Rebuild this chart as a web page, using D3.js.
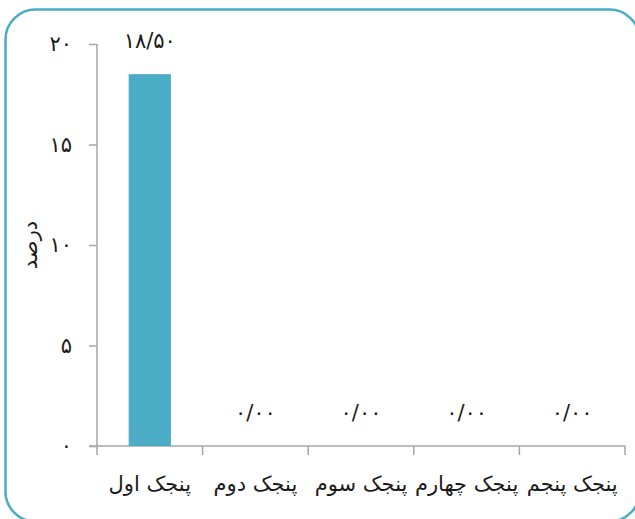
<!DOCTYPE html>
<html>
<head>
<meta charset="utf-8">
<script src="https://cdnjs.cloudflare.com/ajax/libs/d3/7.8.5/d3.min.js"></script>
<style>
  html, body { margin: 0; padding: 0; background: #fff; }
  svg text { font-family: "DejaVu Sans", "Noto Sans", sans-serif; fill: #1a1a1a; }
</style>
</head>
<body>
<svg id="chart" width="635" height="519"></svg>
<script>
// Quintile groups and their share in percent
const categories = ["پنجک اول", "پنجک دوم", "پنجک سوم", "پنجک چهارم", "پنجک پنجم"];
const values = [18.5, 0, 0, 0, 0];
const yTicks = [0, 5, 10, 15, 20];
const yLabel = "درصد";

const faDigits = "۰۱۲۳۴۵۶۷۸۹";
const toFa = s => String(s).replace(/\d/g, d => faDigits[+d]);
const fmtValue = v => toFa(v.toFixed(2).replace(".", "/"));

const svg = d3.select("#chart");
const margin = { left: 97, top: 44 };
const plotRight = 625;

// Rounded frame around the chart
svg.append("rect")
  .attr("x", 5.5).attr("y", 9.5)
  .attr("width", 634).attr("height", 512)
  .attr("rx", 30).attr("ry", 30)
  .attr("fill", "none")
  .attr("stroke", "#4bacc6")
  .attr("stroke-width", 2.5);

const x = d3.scaleBand()
  .domain(categories)
  .range([margin.left, plotRight])
  .paddingInner(0.6).paddingOuter(0.3);

const xOuter = d3.scaleBand().domain(categories).range([margin.left, plotRight]);

const y = d3.scaleLinear().domain([0, 20]).range([446, margin.top]);

const axisColor = "#a6a6a6";

// Y axis
const yAxis = svg.append("g")
  .attr("transform", `translate(${margin.left},0)`)
  .call(d3.axisLeft(y).tickValues(yTicks).tickSize(8).tickPadding(17).tickFormat(toFa));
yAxis.select(".domain").attr("stroke", axisColor).attr("stroke-width", 1.5)
  .attr("d", `M0,${y(20)}V${y(0)}`);
yAxis.selectAll(".tick line").attr("stroke", axisColor).attr("stroke-width", 1.5);
yAxis.selectAll(".tick text").style("font-size", "21px");

// X axis with ticks at the band boundaries
const xAxisG = svg.append("g").attr("transform", `translate(0,${y(0)})`);
xAxisG.append("line")
  .attr("x1", margin.left - 8).attr("x2", plotRight)
  .attr("stroke", axisColor).attr("stroke-width", 1.5);
const bounds = categories.map(c => xOuter(c)).concat([plotRight]);
xAxisG.selectAll("line.tk").data(bounds).join("line")
  .attr("class", "tk")
  .attr("x1", d => d).attr("x2", d => d)
  .attr("y1", 0).attr("y2", 9)
  .attr("stroke", axisColor).attr("stroke-width", 1.5);
xAxisG.selectAll("text").data(categories).join("text")
  .attr("x", d => xOuter(d) + xOuter.bandwidth() / 2)
  .attr("y", 45)
  .attr("text-anchor", "middle")
  .attr("direction", "rtl")
  .style("font-size", "21px")
  .text(d => d);

// Bars
svg.selectAll("rect.bar").data(values).join("rect")
  .attr("class", "bar")
  .attr("x", (d, i) => x(categories[i]))
  .attr("width", x.bandwidth())
  .attr("y", d => y(d))
  .attr("height", d => y(0) - y(d))
  .attr("fill", "#4bacc6");

// Value labels
svg.selectAll("text.val").data(values).join("text")
  .attr("class", "val")
  .attr("x", (d, i) => xOuter(categories[i]) + xOuter.bandwidth() / 2)
  .attr("y", d => y(d) - 26)
  .attr("text-anchor", "middle")
  .style("font-size", "21px")
  .text(d => fmtValue(d));

// Y axis title
svg.append("text")
  .attr("transform", `translate(37,245) rotate(-90)`)
  .attr("text-anchor", "middle")
  .attr("direction", "rtl")
  .style("font-size", "21px")
  .text(yLabel);
</script>
</body>
</html>
